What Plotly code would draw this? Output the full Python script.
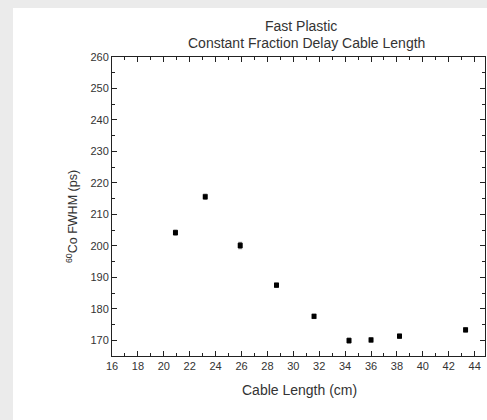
import plotly.graph_objects as go

# Cable length (cm) vs. 60Co timing resolution (ps)
cable_length = [20.9, 23.2, 25.9, 28.7, 31.6, 34.3, 36.0, 38.2, 43.3]
fwhm_ps = [204.2, 215.6, 200.1, 187.5, 177.6, 169.9, 170.1, 171.3, 173.3]
fwhm_err = [0.8, 0.8, 1.0, 0.7, 0.7, 0.8, 0.7, 0.7, 0.7]

x_ticks = list(range(16, 45, 2))
y_ticks = list(range(170, 261, 10))

font = "Liberation Sans, Arial, sans-serif"
ink = "#222222"
text_col = "#333333"

fig = go.Figure()
fig.add_trace(go.Scatter(
    x=cable_length, y=fwhm_ps,
    mode="markers",
    marker=dict(symbol="square", size=5, color="#000000"),
    error_y=dict(type="data", array=fwhm_err, visible=True,
                 color="#555555", thickness=1, width=2),
    showlegend=False,
))

axis_common = dict(
    showline=True, linecolor=ink, linewidth=1, mirror="ticks",
    ticks="inside", ticklen=5, tickwidth=1, tickcolor=ink,
    showgrid=False, zeroline=False,
    tickfont=dict(family=font, size=11, color=text_col),
)

fig.update_xaxes(
    range=[16, 44.8], tickvals=x_ticks,
    minor=dict(dtick=1, ticks="inside", ticklen=3, tickcolor=ink, showgrid=False),
    **axis_common,
)
fig.update_yaxes(
    range=[165, 260], tickvals=y_ticks,
    minor=dict(dtick=5, ticks="inside", ticklen=3, tickcolor=ink, showgrid=False),
    **axis_common,
)

# plot area spans x 112..485 px, y 57..356 px
PW, PH = 373.0, 299.0


def px(x):
    return (x - 112) / PW


def py(y):
    return (356 - y) / PH


# light grey surround on the left and top edges of the page
fig.add_shape(type="rect", xref="paper", yref="paper",
              x0=px(-60), x1=px(13), y0=py(480), y1=py(-60),
              fillcolor="#ebebeb", line=dict(width=0), layer="below")
fig.add_shape(type="rect", xref="paper", yref="paper",
              x0=px(-60), x1=px(560), y0=py(8), y1=py(-60),
              fillcolor="#ebebeb", line=dict(width=0), layer="below")
# white page continues past the right frame edge
fig.add_shape(type="rect", xref="paper", yref="paper",
              x0=px(486.5), x1=px(600), y0=py(480), y1=py(8),
              fillcolor="white", line=dict(width=0), layer="above")

# titles
fig.add_annotation(text="Fast Plastic", xref="paper", yref="paper",
                   x=px(300.5), y=py(25.7), xanchor="center", yanchor="middle",
                   showarrow=False, font=dict(family=font, size=14, color=text_col))
fig.add_annotation(text="Constant Fraction Delay Cable Length", xref="paper", yref="paper",
                   x=px(306), y=py(43.3), xanchor="center", yanchor="middle",
                   showarrow=False, font=dict(family=font, size=14, color=text_col))
fig.add_annotation(text="Cable Length (cm)", xref="paper", yref="paper",
                   x=px(299), y=py(390), xanchor="center", yanchor="middle",
                   showarrow=False, font=dict(family=font, size=14, color=text_col))
fig.add_annotation(text="<sup>60</sup>Co FWHM (ps)", xref="paper", yref="paper",
                   x=px(72), y=py(217), xanchor="center", yanchor="middle", textangle=-90,
                   showarrow=False, font=dict(family=font, size=12.5, color=text_col))

fig.update_layout(
    width=487, height=420,
    margin=dict(l=112, r=2, t=57, b=64),
    paper_bgcolor="white", plot_bgcolor="white",
)

fig.write_html(
    "out.html",
    post_script="document.documentElement.style.overflow='hidden';"
                "document.body.style.overflow='hidden';document.body.style.margin='0';",
)
